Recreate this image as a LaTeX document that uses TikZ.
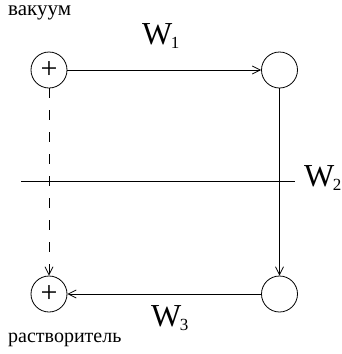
\documentclass[tikz,border=0pt]{standalone}
\usepackage{fontspec}
\setmainfont{Liberation Serif}
\usetikzlibrary{arrows.meta}
\newcommand{\Wlab}[1]{W\kern-1.5pt\raisebox{-0.12em}{\fontsize{17}{17}\selectfont #1}}
\begin{document}
\begin{tikzpicture}[x=1pt,y=-1pt,
  st/.style={circle,draw,line width=0.8pt,minimum size=36pt,inner sep=0pt},
  plus/.style={font=\fontsize{30}{30}\selectfont},
  conn/.style={line width=0.8pt,-{Straight Barb[length=8pt,width=8pt]}},
  wlab/.style={font=\fontsize{32}{32}\selectfont,inner sep=0pt},
  txt/.style={inner sep=0pt}]
\useasboundingbox (0,0) rectangle (341,354);
\node[st,plus] (a) at (49,70) {+};
\node[st] (b) at (279.5,70) {};
\node[st] (c) at (279.5,294) {};
\node[st,plus] (d) at (49,294) {+};
\draw[conn] (a) -- (b);
\draw[conn] (b) -- (c);
\draw[conn] (c) -- (d);
\draw[conn,dash pattern=on 10pt off 12pt] (a) -- (d);
\coordinate (h1) at (21,181.5);
\coordinate (h2) at (295,181.5);
\draw[line width=0.8pt] (h1) -- (h2);
\node[wlab,anchor=west] (w1) at (142,36) {\Wlab{1}};
\node[wlab,anchor=west] (w2) at (304,178) {\Wlab{2}};
\node[wlab,anchor=west] (w3) at (151,318) {\Wlab{3}};
\node[txt,anchor=west,font=\fontsize{21}{21}\selectfont] (vac) at (8,13) {вакуум};
\node[txt,anchor=west,font=\fontsize{20}{20}\selectfont] (sol) at (8,340) {растворитель};
\end{tikzpicture}
\end{document}
